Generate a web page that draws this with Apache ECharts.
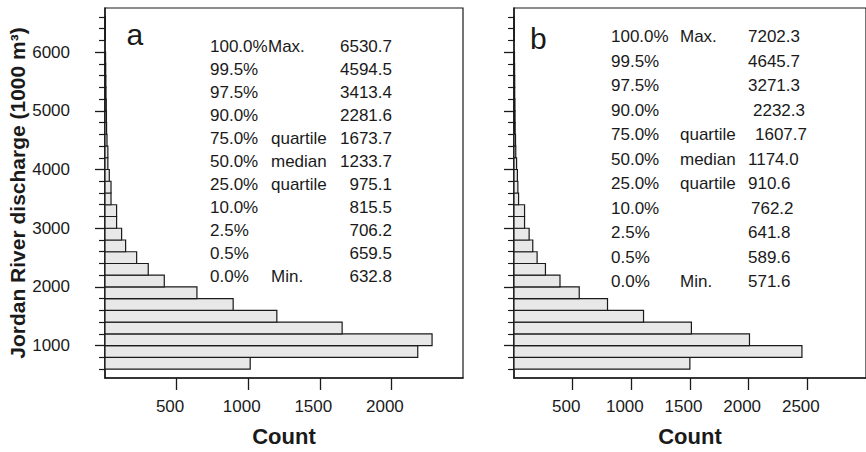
<!DOCTYPE html>
<html><head><meta charset="utf-8">
<script src="https://cdn.jsdelivr.net/npm/echarts@6/dist/echarts.min.js"></script>
<style>html,body{margin:0;padding:0;background:#fff}#c{width:866px;height:452px}</style>
</head><body><div id="c"></div>
<script>
// ---- data ----
const binStarts = [600,800,1000,1200,1400,1600,1800,2000,2200,2400,2600,2800,3000,3200,3400,3600,3800,4000,4200,4400,4600,4800,5000,5200,5400,5600,5800,6000,6200,6400];
const binWidth = 200;
const countsA = [1014,2184,2284,1656,1200,895,642,414,302,221,144,116,81,81,42,42,30,20,20,14,11,10,9,7,6,5,4,0,3,3];
const countsB = [1499,2454,2007,1512,1104,797,556,392,268,197,160,129,90,90,39,33,29,22,15,13,10,9,8,6,6,5,4,0,3,3];
const dischargeMajorTicks = [1000,2000,3000,4000,5000,6000];
const dischargeMinorTicks = [600,800,1200,1400,1600,1800,2200,2400,2600,2800,3200,3400,3600,3800,4200,4400,4600,4800,5200,5400,5600,5800,6200,6400,6600];
const countTicksA = [500,1000,1500,2000];
const countTicksB = [500,1000,1500,2000,2500];
const pctLabels = ['100.0%','99.5%','97.5%','90.0%','75.0%','50.0%','25.0%','10.0%','2.5%','0.5%','0.0%'];
const statNames = ['Max.','','','','quartile','median','quartile','','','','Min.'];
const statValuesA = ['6530.7','4594.5','3413.4','2281.6','1673.7','1233.7','975.1','815.5','706.2','659.5','632.8'];
const statValuesB = ['7202.3','4645.7','3271.3','2232.3','1607.7','1174.0','910.6','762.2','641.8','589.6','571.6'];
const panelLetters = ['a','b'];
const yAxisTitle = 'Jordan River discharge (1000 m³)';
const xAxisTitle = 'Count';

// ---- styling / layout ----
const FONT = "'Liberation Sans', Arial, Helvetica, sans-serif";
const INK = '#1a1a1a';
const Y_MIN = 450, Y_MAX = 6750;
const plain = v => String(v);

function renderHist(params, api) {
  const y0 = api.value(0), y1 = api.value(1), c = api.value(2);
  if (!(c > 0)) return null;
  const p0 = api.coord([0, y1]);
  const p1 = api.coord([c, y0]);
  const cs = params.coordSys;
  const shape = echarts.graphic.clipRectByRect(
    {x: p0[0], y: p0[1], width: p1[0] - p0[0], height: p1[1] - p0[1]},
    {x: cs.x, y: cs.y, width: cs.width, height: cs.height});
  if (!shape) return null;
  return {type: 'rect', shape: shape, style: {fill: '#e8e8e8', stroke: INK, lineWidth: 1.2}};
}

function xAxisCfg(gi, max, ticks) {
  return {
    gridIndex: gi, type: 'value', min: 0, max: max,
    name: xAxisTitle, nameLocation: 'middle', nameGap: 47,
    nameTextStyle: {fontFamily: FONT, fontSize: 22, fontWeight: 'bold', color: INK},
    axisLine: {show: true, lineStyle: {color: INK, width: 1.5}},
    axisTick: {show: true, customValues: ticks, length: 12, lineStyle: {color: INK, width: 1.3}},
    axisLabel: {show: true, customValues: ticks, formatter: plain, margin: 20, fontFamily: FONT, fontSize: 17, color: INK, padding: [0, 13, 0, 0]},
    splitLine: {show: false}
  };
}
function yAxisMajor(gi, withLabels) {
  const a = {
    gridIndex: gi, type: 'value', min: Y_MIN, max: Y_MAX, position: 'left',
    axisLine: {show: true, lineStyle: {color: INK, width: 1.5}},
    axisTick: {show: true, customValues: dischargeMajorTicks, length: 10, lineStyle: {color: INK, width: 1.3}},
    axisLabel: {show: withLabels, customValues: dischargeMajorTicks, formatter: plain, margin: 23, fontFamily: FONT, fontSize: 17, color: INK, padding: [0, 12, 0, 0]},
    splitLine: {show: false}
  };
  if (withLabels) {
    a.name = yAxisTitle; a.nameLocation = 'middle'; a.nameGap = 64; a.nameRotate = 90;
    a.nameTextStyle = {fontFamily: FONT, fontSize: 21, fontWeight: 'bold', color: INK};
  }
  return a;
}
function yAxisMinor(gi) {
  return {
    gridIndex: gi, type: 'value', min: Y_MIN, max: Y_MAX, position: 'left', offset: 0,
    axisLine: {show: false},
    axisTick: {show: true, customValues: dischargeMinorTicks, length: 6, lineStyle: {color: INK, width: 1.2}},
    axisLabel: {show: false},
    splitLine: {show: false}
  };
}

// stats text
const graphics = [];
const rowsA = {y0: 46.7, dy: 23.0, xPct: 210, xName: 271, xNameMax: 268, xVal: 392};
const rowsB = {y0: 36.7, dy: 24.5, xPct: 611, xName: 680, xNameMax: 680, xVal: 748};
const nudgeB = [0,0,0,5,7,0,0,3,0,0,0];
function txt(s, x, y, align, size) {
  graphics.push({type: 'text', x: x, y: y, silent: true,
    style: {text: s, font: (size || 17) + 'px ' + FONT, fill: INK, align: align, verticalAlign: 'middle'}});
}
pctLabels.forEach((p, i) => {
  const yA = rowsA.y0 + i * rowsA.dy;
  txt(p, rowsA.xPct, yA, 'left');
  if (statNames[i]) txt(statNames[i], i === 0 ? rowsA.xNameMax : rowsA.xName, yA, 'left');
  txt(statValuesA[i], rowsA.xVal, yA, 'right');
  const yB = rowsB.y0 + i * rowsB.dy;
  txt(p, rowsB.xPct, yB, 'left');
  if (statNames[i]) txt(statNames[i], rowsB.xName, yB, 'left');
  txt(statValuesB[i], rowsB.xVal + nudgeB[i], yB, 'left');
});
txt(panelLetters[0], 126.5, 34.6, 'left', 30);
txt(panelLetters[1], 530, 38.6, 'left', 30);

const chart = echarts.init(document.getElementById('c'), null, {renderer: 'svg', width: 866, height: 452});
chart.setOption({
  animation: false,
  backgroundColor: '#ffffff',
  grid: [
    {left: 105, top: 8, width: 358, height: 371, show: true, borderColor: INK, borderWidth: 1.2, backgroundColor: 'transparent'},
    {left: 514, top: 8, width: 387, height: 371, show: true, borderColor: INK, borderWidth: 1.2, backgroundColor: 'transparent'}
  ],
  xAxis: [xAxisCfg(0, 2500, countTicksA), xAxisCfg(1, 3000, countTicksB)],
  yAxis: [yAxisMajor(0, true), yAxisMinor(0), yAxisMajor(1, false), yAxisMinor(1)],
  series: [
    {type: 'custom', xAxisIndex: 0, yAxisIndex: 0, renderItem: renderHist, encode: {x: 2, y: [0, 1]}, silent: true,
     data: binStarts.map((b, i) => [b, b + binWidth, countsA[i]])},
    {type: 'custom', xAxisIndex: 1, yAxisIndex: 2, renderItem: renderHist, encode: {x: 2, y: [0, 1]}, silent: true,
     data: binStarts.map((b, i) => [b, b + binWidth, countsB[i]])}
  ],
  graphic: graphics
});
</script>
</body></html>
